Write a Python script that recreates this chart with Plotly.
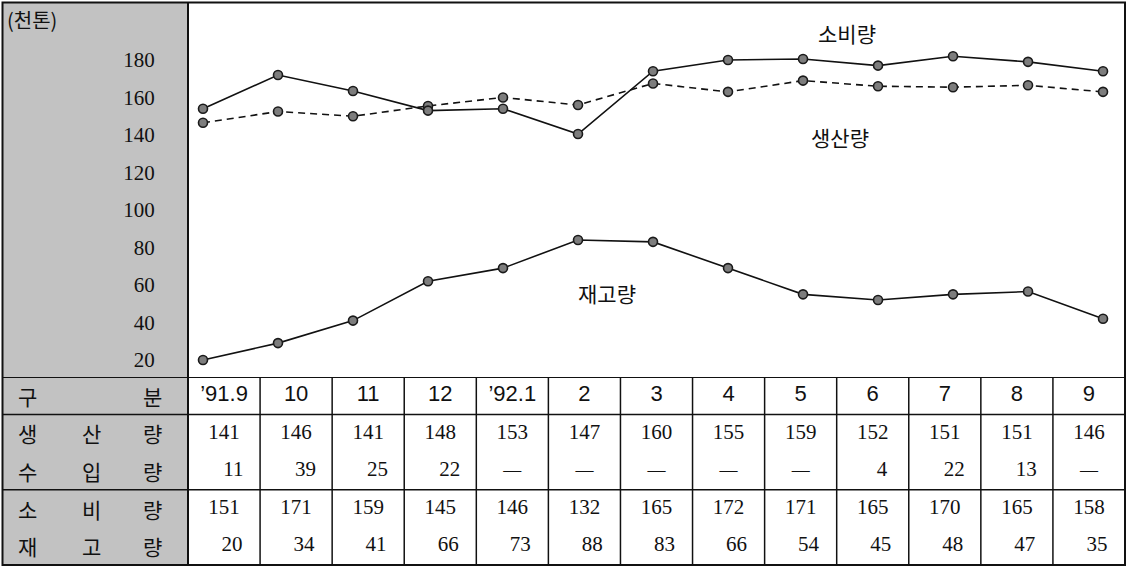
import plotly.graph_objects as go

# ---------------- data ----------------
months = ["’91.9", "10", "11", "12", "’92.1", "2", "3", "4", "5", "6", "7", "8", "9"]

# values as drawn in the line chart (천톤)
consumption_plot = [154, 172, 163.5, 153, 154, 140.5, 174, 180, 180.5, 177, 182, 179, 174]
production_plot = [146.5, 152.5, 150, 155.5, 160, 156, 167.5, 163, 169, 166, 165.5, 166.5, 163]
stock_plot = [20, 29, 41, 62, 69, 84, 83, 69, 55, 52, 55, 56.5, 42]

# values in the table
table_production = [141, 146, 141, 148, 153, 147, 160, 155, 159, 152, 151, 151, 146]
table_import = [11, 39, 25, 22, None, None, None, None, None, 4, 22, 13, None]
table_consumption = [151, 171, 159, 145, 146, 132, 165, 172, 171, 165, 170, 165, 158]
table_stock = [20, 34, 41, 66, 73, 88, 83, 66, 54, 45, 48, 47, 35]

row_labels = [["구", "분"], ["생", "산", "량"], ["수", "입", "량"], ["소", "비", "량"], ["재", "고", "량"]]
y_ticks = [20, 40, 60, 80, 100, 120, 140, 160, 180]
unit_label = "(천톤)"
series_names = ["소비량", "생산량", "재고량"]

# ---------------- layout helpers ----------------
W, H = 1127, 568
def px(x):
    return x / W
def py(y):
    return 1 - y / H

SERIF = "Liberation Serif, Times New Roman, serif"
SANS = "Liberation Sans, Arial, sans-serif"
KR = "Noto Sans CJK KR, sans-serif"

fig = go.Figure()

marker = dict(size=9, color="#7d7d7d", line=dict(color="#1a1a1a", width=1.6))
xs = list(range(len(months)))

fig.add_trace(go.Scatter(x=xs, y=production_plot, mode="lines+markers", name=series_names[1],
                         line=dict(color="#111", width=1.6, dash="7px,5px"), marker=marker,
                         xaxis="x", yaxis="y", showlegend=False))
fig.add_trace(go.Scatter(x=xs, y=consumption_plot, mode="lines+markers", name=series_names[0],
                         line=dict(color="#111", width=1.6), marker=marker,
                         xaxis="x", yaxis="y", showlegend=False))
fig.add_trace(go.Scatter(x=xs, y=stock_plot, mode="lines+markers", name=series_names[2],
                         line=dict(color="#111", width=1.6), marker=marker,
                         xaxis="x", yaxis="y", showlegend=False))

# ---------------- table text ----------------
tfont_num = dict(family=SERIF, size=21, color="#111")
fig.add_trace(go.Scatter(x=xs, y=[0] * 13, mode="text", text=months, textposition="middle center",
                         textfont=dict(family=SANS, size=22, color="#111"),
                         xaxis="x2", yaxis="y2", showlegend=False, hoverinfo="skip"))
fig.add_trace(go.Scatter(x=xs, y=[1] * 13, mode="text", text=[str(v) for v in table_production],
                         textposition="middle center", textfont=tfont_num,
                         xaxis="x2", yaxis="y2", showlegend=False, hoverinfo="skip"))
# import row: numbers shifted right, dashes centered
imp_x = [i + 0.13 for i, v in enumerate(table_import) if v is not None]
imp_t = [str(v) for v in table_import if v is not None]
dash_x = [i for i, v in enumerate(table_import) if v is None]
fig.add_trace(go.Scatter(x=imp_x, y=[2] * len(imp_x), mode="text", text=imp_t,
                         textposition="middle center", textfont=tfont_num,
                         xaxis="x2", yaxis="y2", showlegend=False, hoverinfo="skip"))
fig.add_trace(go.Scatter(x=dash_x, y=[2] * len(dash_x), mode="text", text=["—"] * len(dash_x),
                         textposition="middle center", textfont=dict(family=SERIF, size=18, color="#111"),
                         xaxis="x2", yaxis="y2", showlegend=False, hoverinfo="skip"))
fig.add_trace(go.Scatter(x=xs, y=[3] * 13, mode="text", text=[str(v) for v in table_consumption],
                         textposition="middle center", textfont=tfont_num,
                         xaxis="x2", yaxis="y2", showlegend=False, hoverinfo="skip"))
fig.add_trace(go.Scatter(x=[i + 0.11 for i in xs], y=[4] * 13, mode="text",
                         text=[str(v) for v in table_stock],
                         textposition="middle center", textfont=tfont_num,
                         xaxis="x2", yaxis="y2", showlegend=False, hoverinfo="skip"))

shapes = []
# gray left panel
shapes.append(dict(type="rect", xref="paper", yref="paper", x0=px(3), x1=px(188), y0=py(565), y1=py(2),
                   fillcolor="#c2c2c2", line=dict(width=0), layer="below"))
# outer frame
shapes.append(dict(type="rect", xref="paper", yref="paper", x0=px(2.5), x1=px(1125), y0=py(565), y1=py(2.5),
                   fillcolor="rgba(0,0,0,0)", line=dict(color="#111", width=2)))
# divider between panel and chart
shapes.append(dict(type="line", xref="paper", yref="paper", x0=px(188), x1=px(188), y0=py(565), y1=py(2.5),
                   line=dict(color="#111", width=2)))
# table horizontal lines
for r, w in [(-0.5, 2), (0.5, 1.5), (2.5, 1.5), (4.5, 2)]:
    shapes.append(dict(type="line", xref="paper", yref="y2", x0=px(2.5), x1=px(1125), y0=r, y1=r,
                       line=dict(color="#111", width=w)))
# table vertical lines
for i in range(14):
    shapes.append(dict(type="line", xref="x2", yref="y2", x0=i - 0.5, x1=i - 0.5, y0=-0.5, y1=4.5,
                       line=dict(color="#111", width=1.5)))

annotations = []
# row labels in the gray column
label_x3 = [27, 91, 152]
for r, chars in enumerate(row_labels):
    pos = [label_x3[0], label_x3[2]] if len(chars) == 2 else label_x3
    for c, xp in zip(chars, pos):
        annotations.append(dict(text=c, xref="paper", yref="y2", x=px(xp), y=r, showarrow=False,
                                xanchor="center", yanchor="middle",
                                font=dict(family=KR, size=21, color="#111")))
# unit label
annotations.append(dict(text=unit_label, xref="paper", yref="paper", x=px(5), y=py(20), showarrow=False,
                        xanchor="left", yanchor="middle", font=dict(family=KR, size=20, color="#111")))
# series labels
annotations.append(dict(text=series_names[0], xref="x", yref="y", x=8.59, y=194.5, showarrow=False,
                        font=dict(family=KR, size=21, color="#111")))
annotations.append(dict(text=series_names[1], xref="x", yref="y", x=8.49, y=139, showarrow=False,
                        font=dict(family=KR, size=21, color="#111")))
annotations.append(dict(text=series_names[2], xref="x", yref="y", x=5.39, y=55.7, showarrow=False,
                        font=dict(family=KR, size=21, color="#111")))

fig.update_layout(
    width=W, height=H,
    margin=dict(l=0, r=0, t=0, b=0),
    paper_bgcolor="white", plot_bgcolor="white",
    xaxis=dict(domain=[px(188), px(1125)], range=[-0.2, 12.293], visible=False, fixedrange=True),
    yaxis=dict(domain=[py(377), py(2)], range=[10.93, 210.93], tickvals=y_ticks,
               ticktext=[str(v) for v in y_ticks], showgrid=False, zeroline=False, showline=False,
               ticks="outside", ticklen=28, tickcolor="rgba(0,0,0,0)",
               tickfont=dict(family=SERIF, size=21, color="#111")),
    xaxis2=dict(domain=[px(188), px(1125)], range=[-0.5, 12.5], visible=False, anchor="y2"),
    yaxis2=dict(domain=[py(565), py(377)], range=[4.5, -0.5], visible=False, anchor="x2"),
    shapes=shapes,
    annotations=annotations,
    showlegend=False,
)

fig.write_html("out.html", config={"displayModeBar": False},
               post_script="document.body.style.margin='0';document.body.style.overflow='hidden';")
